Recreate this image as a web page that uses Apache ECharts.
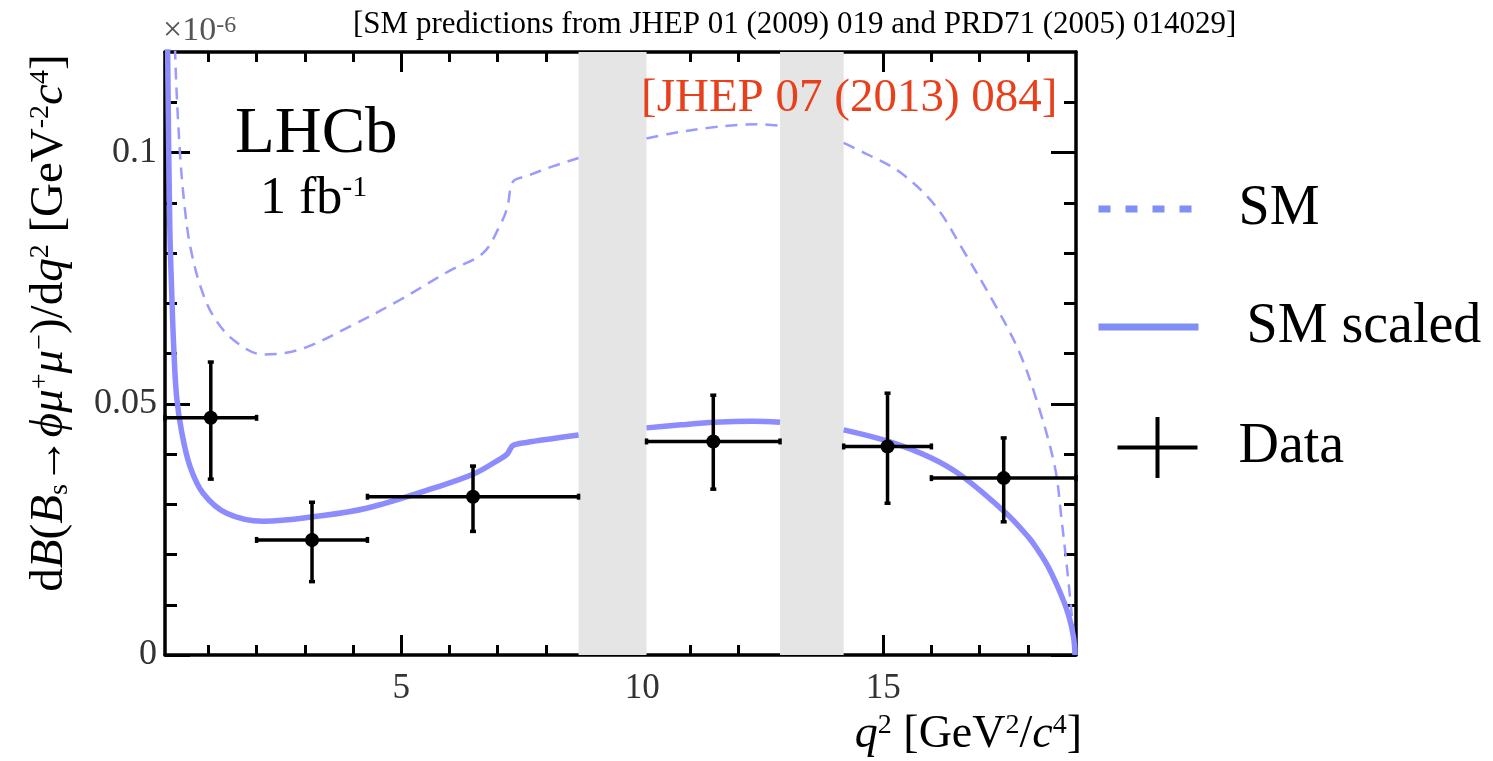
<!DOCTYPE html>
<html>
<head>
<meta charset="utf-8">
<title>Bs to phi mu mu differential branching fraction</title>
<script src="https://cdn.jsdelivr.net/npm/echarts@6/dist/echarts.min.js"></script>
<style>
  html, body { margin: 0; padding: 0; background: #fff; }
  #chart { width: 1493px; height: 761px; }
</style>
</head>
<body>
<div id="chart"></div>
<script>
// SM prediction (dashed), null = charmonium veto gap
const smQ2 = [0.1, 0.2, 0.31, 0.41, 0.51, 0.62, 0.83, 1.1, 1.52, 2.14, 2.9, 3.94, 4.98, 6.01, 6.7, 7.05, 7.2, 7.32, 7.6, 8.16, 8.68,
  9.4, 10.09, 10.6, 11.37, 12.0, 12.45, 12.86, 13.5, 14.18, 14.7, 15.36, 16.09, 16.65, 17.26, 17.8, 18.18, 18.56, 18.7, 18.85, 18.95, 18.98];
const smVal = [0.3, 0.17, 0.12, 0.1, 0.089, 0.0815, 0.0735, 0.0675, 0.0627, 0.0598, 0.0608, 0.0654, 0.0707, 0.0765, 0.0800, 0.0855, 0.089, 0.0942, 0.0953, 0.0973, 0.0989,
  null, 0.1028, 0.1038, 0.1049, 0.1055, 0.1056, 0.1053, null, 0.1019, 0.0995, 0.096, 0.0893, 0.0807, 0.0707, 0.0608, 0.0508, 0.0375, 0.027, 0.014, 0.004, 0];

// SM scaled (solid)
const scQ2 = [0.1, 0.13, 0.16, 0.2, 0.24, 0.28, 0.34, 0.45, 0.62, 0.89, 1.38, 2.14, 3.25, 4.28, 5.67, 6.5, 7.05, 7.2, 7.32, 7.6, 8.16, 8.68,
  9.4, 10.09, 10.8, 11.5, 12.3, 12.86, 13.5, 14.18, 15.11, 16.0, 16.65, 17.55, 18.0, 18.18, 18.42, 18.7, 18.85, 18.95, 18.98];
const scVal = [0.2, 0.15, 0.115, 0.085, 0.072, 0.0615, 0.0515, 0.0442, 0.0375, 0.0322, 0.0282, 0.0266, 0.0276, 0.0292, 0.0332, 0.0360, 0.0390, 0.0400, 0.0417, 0.0423, 0.0431, 0.0438,
  null, 0.0452, 0.0458, 0.0463, 0.0465, 0.0463, null, 0.0448, 0.0425, 0.0392, 0.0355, 0.0282, 0.0236, 0.0213, 0.0176, 0.0118, 0.0078, 0.0035, 0];

// LHCb data, 1 fb-1
const binLo  = [0.1, 2.0, 4.3, 10.09, 14.18, 16.0];
const binHi  = [2.0, 4.3, 8.68, 12.86, 16.0, 19.0];
const binMid = [1.05, 3.15, 6.49, 11.475, 15.09, 17.5];
const dataVal = [0.0472, 0.0229, 0.0315, 0.0425, 0.0415, 0.0352];
const errLow  = [0.0350, 0.0146, 0.0246, 0.0330, 0.0302, 0.0265];
const errHigh = [0.0583, 0.0304, 0.0376, 0.0517, 0.0521, 0.0432];

// vetoed q2 regions (J/psi, psi(2S))
const vetoLo = [8.68, 12.86];
const vetoHi = [10.09, 14.18];

// ticks
const xMajor = [5, 10, 15];
const xMinor = [1, 2, 3, 4, 6, 7, 8, 9, 11, 12, 13, 14, 16, 17, 18];
const yMajor = [0, 0.05, 0.1];
const yMinor = [0.01, 0.02, 0.03, 0.04, 0.06, 0.07, 0.08, 0.09, 0.11];

const serif = '"Liberation Serif", "Times New Roman", serif';
const lineBlue = '#8c8cff';
const dashBlue = '#9a9aff';

function xAx(pos, ticks, len, labels) {
  return {
    type: 'value', position: pos, min: 0.1, max: 19,
    axisLine: {show: len > 15, onZero: false, lineStyle: {color: '#000', width: 3.5}},
    axisTick: {show: true, inside: true, length: len, customValues: ticks, lineStyle: {color: '#000', width: 3}},
    axisLabel: labels ? {show: true, customValues: ticks, fontSize: 35, color: '#333', margin: 16, fontFamily: serif} : {show: false},
    splitLine: {show: false}
  };
}
function yAx(pos, ticks, len, labels) {
  return {
    type: 'value', position: pos, min: 0, max: 0.12,
    axisLine: {show: len > 15, onZero: false, lineStyle: {color: '#000', width: 3.5}},
    axisTick: {show: true, inside: true, length: len, customValues: ticks, lineStyle: {color: '#000', width: 3}},
    axisLabel: labels ? {show: true, customValues: ticks, fontSize: 36, color: '#333', margin: 8, fontFamily: serif,
      formatter: v => String(v)} : {show: false},
    splitLine: {show: false}
  };
}

function renderErrorBar(params, api) {
  const c = api.coord([api.value(0), api.value(1)]);
  const l = api.coord([api.value(2), api.value(1)]);
  const r = api.coord([api.value(3), api.value(1)]);
  const lo = api.coord([api.value(0), api.value(4)]);
  const hi = api.coord([api.value(0), api.value(5)]);
  const st = {stroke: '#000', lineWidth: 3.5, fill: null};
  const cap = 3;
  return {
    type: 'group',
    children: [
      {type: 'line', shape: {x1: l[0], y1: c[1], x2: r[0], y2: c[1]}, style: st},
      {type: 'line', shape: {x1: c[0], y1: hi[1], x2: c[0], y2: lo[1]}, style: st},
      {type: 'line', shape: {x1: l[0], y1: c[1] - cap, x2: l[0], y2: c[1] + cap}, style: st},
      {type: 'line', shape: {x1: r[0], y1: c[1] - cap, x2: r[0], y2: c[1] + cap}, style: st},
      {type: 'line', shape: {x1: c[0] - cap, y1: hi[1], x2: c[0] + cap, y2: hi[1]}, style: st},
      {type: 'line', shape: {x1: c[0] - cap, y1: lo[1], x2: c[0] + cap, y2: lo[1]}, style: st},
      {type: 'circle', shape: {cx: c[0], cy: c[1], r: 7}, style: {fill: '#000'}}
    ]
  };
}

const supStyle = (fs) => ({fontSize: fs, fontFamily: serif, verticalAlign: 'top', lineHeight: fs * 0.85, fill: '#000'});

const chart = echarts.init(document.getElementById('chart'));
chart.setOption({
  animation: false,
  backgroundColor: '#fff',
  textStyle: {fontFamily: serif},
  grid: {left: 165, top: 52, width: 911, height: 603, containLabel: false, outerBoundsMode: 'none'},
  xAxis: [
    xAx('bottom', xMajor, 20, true),
    xAx('bottom', xMinor, 10, false),
    xAx('top', xMajor, 20, false),
    xAx('top', xMinor, 10, false)
  ],
  yAxis: [
    yAx('left', yMajor, 25, true),
    yAx('left', yMinor, 12, false),
    yAx('right', yMajor, 25, false),
    yAx('right', yMinor, 12, false)
  ],
  legend: {
    orient: 'vertical', left: 1090, top: 176,
    itemWidth: 100, itemHeight: 61, itemGap: 62,
    selectedMode: false,
    textStyle: {fontFamily: serif, fontSize: 56, color: '#000', padding: [0, 0, 0, 35]},
    data: [
      {name: 'SM', itemStyle: {opacity: 0}, lineStyle: {color: '#7f8ff5', width: 7, type: [12, 15]}},
      {name: 'SM scaled', itemStyle: {opacity: 0}, lineStyle: {color: '#7f8ff5', width: 7, type: 'solid'},
        textStyle: {padding: [0, 0, 0, 43]}},
      {name: 'Data', icon: 'path://M0,30h0.1v0.1h-0.1z M18,28.5h80v4h-80z M56,0h4v61h-4z', itemStyle: {color: '#000'}}
    ]
  },
  graphic: [
    {type: 'text', z: 100, x: 353, y: 24.5, style: {text: '[SM predictions from JHEP 01 (2009) 019 and PRD71 (2005) 014029]',
      fontSize: 31, fontFamily: serif, fill: '#000', align: 'left', verticalAlign: 'middle'}},
    {type: 'text', z: 100, x: 163, y: 31, style: {text: '×10{s|-6}', fontSize: 34, fontFamily: serif, fill: '#555',
      align: 'left', verticalAlign: 'middle', rich: {s: {fontSize: 24, fontFamily: serif, fill: '#555', verticalAlign: 'top', lineHeight: 19}}}},
    {type: 'text', z: 100, x: 641, y: 99, style: {text: '[JHEP 07 (2013) 084]', fontSize: 47, fontFamily: serif, fill: '#e8401c',
      align: 'left', verticalAlign: 'middle'}},
    {type: 'text', z: 100, x: 235, y: 135, style: {text: 'LHCb', fontSize: 65, fontFamily: serif, fill: '#000',
      align: 'left', verticalAlign: 'middle'}},
    {type: 'text', z: 100, x: 260, y: 199, style: {text: '1 fb{s|-1}', fontSize: 52, fontFamily: serif, fill: '#000',
      align: 'left', verticalAlign: 'middle', rich: {s: {fontSize: 30, fontFamily: serif, fill: '#000', verticalAlign: 'top', lineHeight: 26}}}},
    {type: 'text', z: 100, x: 1082, y: 735, style: {
      text: '{i|q}{s|2} [GeV{s|2}/{i|c}{s|4}]',
      fontSize: 46, fontFamily: serif, fill: '#000', align: 'right', verticalAlign: 'middle',
      rich: {i: {fontSize: 46, fontFamily: serif, fontStyle: 'italic', fill: '#000'}, s: supStyle(28)}}},
    {type: 'text', z: 100, x: 50, y: 323, rotation: Math.PI / 2, style: {
      text: 'd{i|B}({i|B}{b|s}→{i|ϕμ}{s|+}{i|μ}{s|−})/d{i|q}{s|2} [GeV{s|-2}{i|c}{s|4}]',
      fontSize: 47, fontFamily: serif, fill: '#000', align: 'center', verticalAlign: 'middle',
      rich: {
        i: {fontSize: 47, fontFamily: serif, fontStyle: 'italic', fill: '#000'},
        s: supStyle(28),
        b: {fontSize: 28, fontFamily: serif, fill: '#000', verticalAlign: 'bottom', lineHeight: 16}
      }}}
  ],
  series: [
    {
      name: 'veto', type: 'line', data: [], z: 1, silent: true,
      markArea: {silent: true, itemStyle: {color: '#e5e5e5'},
        data: vetoLo.map((lo, i) => [{xAxis: lo}, {xAxis: vetoHi[i]}])}
    },
    {
      name: 'SM', type: 'line', z: 3, symbol: 'none', smooth: 0.35,
      lineStyle: {color: dashBlue, width: 2.5, type: [12, 8]},
      itemStyle: {color: dashBlue},
      data: smQ2.map((q, i) => [q, smVal[i]])
    },
    {
      name: 'SM scaled', type: 'line', z: 4, symbol: 'none', smooth: 0.35,
      lineStyle: {color: lineBlue, width: 5.5},
      itemStyle: {color: lineBlue},
      data: scQ2.map((q, i) => [q, scVal[i]])
    },
    {
      name: 'Data', type: 'custom', z: 5,
      itemStyle: {color: '#000'},
      renderItem: renderErrorBar,
      encode: {x: 0, y: 1},
      data: binMid.map((q, i) => [q, dataVal[i], binLo[i], binHi[i], errLow[i], errHigh[i]])
    }
  ]
});
</script>
</body>
</html>
